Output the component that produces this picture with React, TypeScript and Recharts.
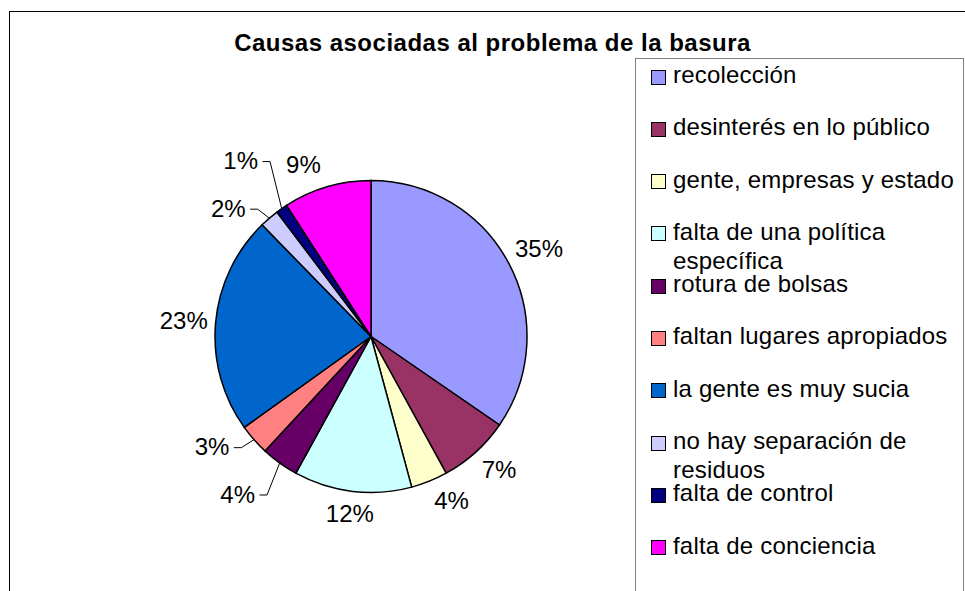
import { PieChart, Pie, Cell, Legend } from "recharts";

const causes = [
  "recolección",
  "desinterés en lo público",
  "gente, empresas y estado",
  "falta de una política específica",
  "rotura de bolsas",
  "faltan lugares apropiados",
  "la gente es muy sucia",
  "no hay separación de residuos",
  "falta de control",
  "falta de conciencia",
];
const shares = [34.6, 7.4, 3.8, 12.2, 3.9, 3.2, 22.6, 2.0, 1.2, 9.1];
const colors = [
  "#9999FF",
  "#993366",
  "#FFFFCC",
  "#CCFFFF",
  "#660066",
  "#FF8080",
  "#0066CC",
  "#CCCCFF",
  "#000080",
  "#FF00FF",
];

const data = causes.map((name, i) => ({ name, value: shares[i] }));
const total = shares.reduce((a, b) => a + b, 0);

const FONT = "Arial, 'Liberation Sans', sans-serif";
const RAD = Math.PI / 180;

// labels that Excel dragged off the pie, offset from the slice edge (with a leader line)
const LEADER: Record<number, [number, number]> = {
  4: [-42, 31],
  5: [-42, 7],
  7: [-41, -10],
  8: [-41, -48],
};
const NUDGE: Record<number, [number, number]> = {
  1: [5, -3],
  2: [13, -4],
  9: [-17, 0],
};

const textWidth = (s: string) =>
  s.split("").reduce((w, ch) => w + (ch === "%" ? 0.889 : 0.556), 0) * 24;

const renderLabel = (p: any) => {
  const { cx, cy, midAngle, outerRadius, index } = p;
  const txt = `${Math.round((shares[index] / total) * 100)}%`;
  const ux = Math.cos(-midAngle * RAD);
  const uy = Math.sin(-midAngle * RAD);
  const ex = cx + outerRadius * ux;
  const ey = cy + outerRadius * uy;
  const w = textWidth(txt);
  let tx: number;
  let ty: number;
  let line = null;
  if (LEADER[index]) {
    tx = ex + LEADER[index][0];
    ty = ey + LEADER[index][1];
    const r = tx + w / 2;
    line = (
      <polyline
        points={`${ex},${ey} ${r + 12},${ty + 1} ${r + 4.5},${ty + 1}`}
        fill="none"
        stroke="#000"
        strokeWidth={1}
      />
    );
  } else {
    const ext = (Math.abs(ux) * w) / 2 + Math.abs(uy) * 12;
    const dist = outerRadius + 7 + ext;
    const n = NUDGE[index] || [0, 0];
    tx = cx + dist * ux + n[0];
    ty = cy + dist * uy + n[1];
  }
  return (
    <g key={`lbl-${index}`}>
      {line}
      <text
        x={tx}
        y={ty + 8.6}
        textAnchor="middle"
        fontFamily={FONT}
        fontSize={24}
        fill="#000"
      >
        {txt}
      </text>
    </g>
  );
};

const LegendBox = () => (
  <div style={{ fontFamily: FONT, fontSize: 24, color: "#000" }}>
    {causes.map((c, i) => (
      <div key={c} style={{ position: "relative", height: 52.3 }}>
        <div
          style={{
            position: "absolute",
            left: 15,
            top: 9.5,
            width: 13,
            height: 13,
            background: colors[i],
            border: "1px solid #000",
          }}
        />
        <div
          style={{
            position: "absolute",
            left: 37,
            top: 0,
            width: 288,
            lineHeight: "29px",
            letterSpacing: 0.2,
            whiteSpace: "normal",
          }}
        >
          {c}
        </div>
      </div>
    ))}
  </div>
);

export default function App() {
  return (
    <div
      style={{
        position: "absolute",
        left: 0,
        top: 0,
        width: 965,
        height: 591,
        overflow: "hidden",
        background: "#fff",
      }}
    >
      <div
        style={{
          position: "absolute",
          left: 9,
          top: 11,
          width: 1000,
          height: 1000,
          borderLeft: "1px solid #000",
          borderTop: "1px solid #000",
        }}
      />
      <div
        style={{
          position: "absolute",
          left: 0,
          top: 31,
          width: 985,
          textAlign: "center",
          fontFamily: FONT,
          fontWeight: "bold",
          fontSize: 24,
          lineHeight: "24px",
          letterSpacing: 0.5,
          color: "#000",
        }}
      >
        Causas asociadas al problema de la basura
      </div>
      <div style={{ position: "absolute", left: 0, top: 0 }}>
        <PieChart width={965} height={591} margin={{ top: 0, right: 0, bottom: 0, left: 0 }}>
          <Pie
            data={data}
            dataKey="value"
            nameKey="name"
            cx={371}
            cy={336.5}
            outerRadius={156}
            startAngle={90}
            endAngle={-270}
            stroke="#000"
            strokeWidth={1.5}
            label={renderLabel}
            labelLine={false}
            isAnimationActive={false}
          >
            {data.map((d, i) => (
              <Cell key={d.name} fill={colors[i]} />
            ))}
          </Pie>
          <Legend
            content={<LegendBox />}
            wrapperStyle={{
              position: "absolute",
              left: 635,
              top: 58,
              width: 329,
              height: 560,
              border: "1px solid #808080",
              boxSizing: "border-box",
              background: "#fff",
              paddingTop: 1,
            }}
          />
        </PieChart>
      </div>
    </div>
  );
}
